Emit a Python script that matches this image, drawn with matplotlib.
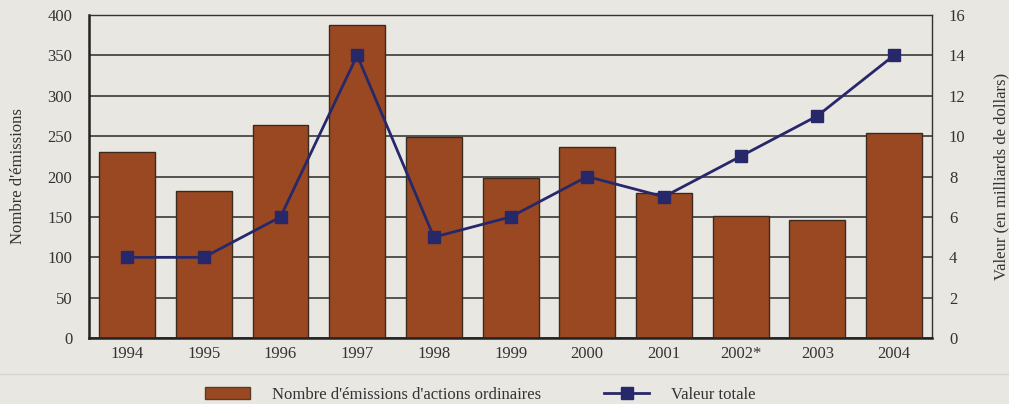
import numpy as np
import matplotlib.pyplot as plt
from matplotlib.patches import Patch
from matplotlib.lines import Line2D

years = ['1994', '1995', '1996', '1997', '1998', '1999', '2000', '2001', '2002*', '2003', '2004']
emissions = [230, 182, 264, 387, 249, 198, 236, 180, 151, 146, 254]
valeur = [4, 4, 6, 14, 5, 6, 8, 7, 9, 11, 14]

bg = '#e9e7e1'
bar_color = '#9a4821'
line_color = '#27286a'

plt.rcParams['font.family'] = ['Liberation Serif', 'DejaVu Serif']

fig = plt.figure(figsize=(10.09, 4.04), dpi=100, facecolor=bg)
ax = fig.add_axes([0.088, 0.163, 0.836, 0.800])
ax.set_facecolor(bg)
x = np.arange(len(years))

ax.set_ylim(0, 400)
ax.set_yticks(np.arange(0, 401, 50))
ax.set_xlim(-0.5, len(years) - 0.5)
ax.yaxis.grid(True, color='#3a3a3a', linewidth=1.2)
ax.set_axisbelow(True)
ax.bar(x, emissions, width=0.73, color=bar_color, edgecolor='#3b2a20', linewidth=1.0, zorder=2)
ax.set_xticks(x)
ax.set_xticklabels(years)
ax.tick_params(axis='x', length=0, pad=6, labelsize=12, colors='#333333')
ax.tick_params(axis='y', length=0, pad=12, labelsize=12, colors='#333333')
ax.set_ylabel("Nombre d'émissions", fontsize=12, color='#333333', labelpad=15)
for s in ['left', 'bottom']:
    ax.spines[s].set_linewidth(1.8)
    ax.spines[s].set_color('#222222')
for s in ['top', 'right']:
    ax.spines[s].set_linewidth(1.0)
    ax.spines[s].set_color('#333333')

ax2 = ax.twinx()
ax2.set_ylim(0, 16)
ax2.set_yticks(np.arange(0, 17, 2))
ax2.plot(x, valeur, color=line_color, linewidth=2.0, marker='s', markersize=9, zorder=3)
ax2.tick_params(axis='y', length=0, pad=12, labelsize=12, colors='#333333')
ax2.set_ylabel('Valeur (en milliards de dollars)', fontsize=12, color='#333333', labelpad=20)
for s in ax2.spines.values():
    s.set_visible(False)

fig.add_artist(Line2D([0, 1], [0.075, 0.075], color='#d8d6d0', linewidth=1.0))

handles = [Patch(facecolor=bar_color, edgecolor='#5a3a2a', linewidth=1.0),
           Line2D([], [], color=line_color, linewidth=2.0, marker='s', markersize=9)]
labels = ["Nombre d'émissions d'actions ordinaires", 'Valeur totale']
fig.legend(handles, labels, loc='lower center', bbox_to_anchor=(0.476, -0.035), ncol=2, frameon=False,
           fontsize=12, handlelength=2.7, columnspacing=3.8, handletextpad=1.3, labelcolor='#333333')

fig.savefig('out.png', dpi=100, facecolor=bg)
